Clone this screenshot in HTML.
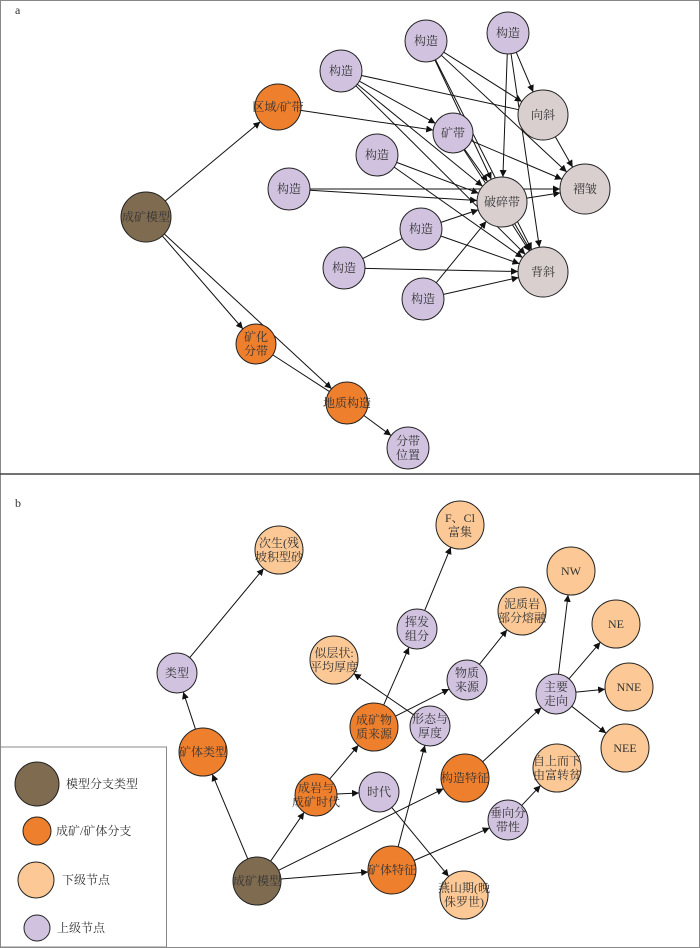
<!DOCTYPE html>
<html><head><meta charset="utf-8"><style>
html,body{margin:0;padding:0;background:#fff}
svg{display:block}
text{font-family:"Liberation Serif","Noto Serif CJK SC","Noto Sans CJK SC",serif;font-size:12px;fill:#333;text-anchor:middle}
</style></head><body>
<svg id="s" width="700" height="948" viewBox="0 0 700 948" xmlns="http://www.w3.org/2000/svg">
<defs><marker id="ar" viewBox="0 0 10 10" refX="10" refY="5" markerWidth="7" markerHeight="7" orient="auto" markerUnits="userSpaceOnUse"><path d="M0,0L10,5L0,10z" fill="#111"/></marker></defs>
<rect x="0.5" y="0.5" width="699" height="947" fill="#fff" stroke="#888"/>
<line x1="0" y1="474" x2="700" y2="474" stroke="#444" stroke-width="1.5"/>
<text x="15" y="14" style="text-anchor:start">a</text>
<text x="15" y="507" style="text-anchor:start">b</text>
<rect x="0.5" y="747" width="166" height="200" fill="#fff" stroke="#888"/>
<g id="edges" stroke="#111" stroke-width="1" fill="none"></g>
<g id="nodes" stroke="#222" stroke-width="1"></g>
<g id="legend" stroke="#222">
<circle cx="37" cy="784" r="22" fill="#7f6b50"/>
<circle cx="37" cy="831" r="14" fill="#ee7f2d"/>
<circle cx="36" cy="880" r="18" fill="#fcc996"/>
<circle cx="37" cy="928" r="13" fill="#d1c3e0"/>
</g>
<g style="text-anchor:start">
<text x="66" y="788" style="text-anchor:start">模型分支类型</text>
<text x="56" y="835" style="text-anchor:start">成矿/矿体分支</text>
<text x="62" y="884" style="text-anchor:start">下级节点</text>
<text x="57" y="932" style="text-anchor:start">上级节点</text>
</g>
<g id="labels"></g>
</svg>
<script>
var C={br:"#7f6b50",or:"#ee7f2d",pe:"#fcc996",la:"#d1c3e0",gr:"#d9cfcf"};
var N={
a0:[146,217,25,"br",["成矿模型"]],
a1:[278,107,23,"or",["区域/矿带"]],
a2:[256,344,20,"or",["矿化","分带"]],
a3:[347,403,21,"or",["地质构造"]],
a4:[408,448,21,"la",["分带","位置"]],
k1:[341,71,21,"la",["构造"]],
k2:[426,41,21,"la",["构造"]],
k3:[508,33,21,"la",["构造"]],
kd:[453,133,20,"la",["矿带"]],
xx:[543,115,25,"gr",["向斜"]],
k4:[377,155,21,"la",["构造"]],
k5:[289,189,21,"la",["构造"]],
ps:[502,202,25,"gr",["破碎带"]],
zz:[585,189,25,"gr",["褶皱"]],
k6:[421,229,21,"la",["构造"]],
k7:[344,268,21,"la",["构造"]],
bx:[543,272,25,"gr",["背斜"]],
k8:[423,299,21,"la",["构造"]],
b0:[257,881,24,"br",["成矿模型"]],
b1:[203,752,24,"or",["矿体类型"]],
b2:[177,673,20,"la",["类型"]],
b3:[279,550,24,"pe",["次生(残","坡积型砂"]],
b4:[316,795,21,"or",["成岩与","成矿时代"]],
b5:[379,792,20,"la",["时代"]],
b6:[374,727,24,"or",["成矿物","质来源"]],
b7:[417,629,20,"la",["挥发","组分"]],
b8:[460,525,24,"pe",["F、Cl","富集"]],
b9:[334,660,24,"pe",["似层状:","平均厚度"]],
b10:[430,726,20,"la",["形态与","厚度"]],
b11:[467,680,20,"la",["物质","来源"]],
b12:[522,611,24,"pe",["泥质岩","部分熔融"]],
b13:[465,778,24,"or",["构造特征"]],
b14:[556,694,20,"la",["主要","走向"]],
b15:[571,571,24,"pe",["NW"]],
b16:[616,624,24,"pe",["NE"]],
b17:[629,687,24,"pe",["NNE"]],
b18:[625,748,24,"pe",["NEE"]],
b19:[557,768,24,"pe",["自上而下","由富转贫"]],
b20:[508,820,20,"la",["垂向分","带性"]],
b21:[392,870,24,"or",["矿体特征"]],
b22:[464,895,24,"pe",["燕山期(晚","侏罗世)"]]
};
var E=[["a0","a1"],["a0","a2"],["a0","a3"],["a2","a3",0],["a3","a4"],["a1","kd"],
["k1","xx",0],["k1","kd"],["k1","ps"],["k1","bx"],
["k2","xx"],["k2","zz"],["k2","ps"],["k2","bx"],
["k3","ps"],["k3","xx"],["k3","bx"],
["kd","ps"],["kd","zz"],["kd","bx"],["xx","zz"],
["k4","ps"],["k4","bx"],["k5","ps"],["k5","zz"],["ps","zz"],["ps","bx"],
["k6","ps"],["k6","bx"],["k7","k6",0],["k7","bx"],["k8","ps"],["k8","bx"],
["b0","b1"],["b0","b4"],["b0","b13"],["b0","b21"],["b1","b2"],["b2","b3"],
["b4","b6"],["b4","b5"],["b5","b22"],["b6","b7"],["b7","b8"],["b6","b11"],["b11","b12"],
["b10","b9"],["b21","b10"],["b21","b20"],["b20","b19"],["b13","b14"],
["b14","b15"],["b14","b16"],["b14","b17"],["b14","b18"]];
var ns="http://www.w3.org/2000/svg",eg=document.getElementById("edges"),ng=document.getElementById("nodes");
E.forEach(function(e){var a=N[e[0]],b=N[e[1]];var dx=b[0]-a[0],dy=b[1]-a[1],d=Math.hypot(dx,dy);
var l=document.createElementNS(ns,"line");l.setAttribute("x1",a[0]+dx/d*a[2]);l.setAttribute("y1",a[1]+dy/d*a[2]);
l.setAttribute("x2",b[0]-dx/d*b[2]);l.setAttribute("y2",b[1]-dy/d*b[2]);if(e[2]!==0)l.setAttribute("marker-end","url(#ar)");eg.appendChild(l);});
for(var k in N){var n=N[k];var c=document.createElementNS(ns,"circle");c.setAttribute("cx",n[0]);c.setAttribute("cy",n[1]);c.setAttribute("r",n[2]);c.setAttribute("fill",C[n[3]]);ng.appendChild(c);}
</script>
<g></g>
<svg width="700" height="948" style="position:absolute;left:0;top:0" xmlns="http://www.w3.org/2000/svg">
<text x="146" y="221">成矿模型</text>
<text x="278" y="111">区域/矿带</text>
<text x="256" y="341">矿化</text><text x="256" y="355">分带</text>
<text x="347" y="407">地质构造</text>
<text x="408" y="445">分带</text><text x="408" y="459">位置</text>
<text x="341" y="75">构造</text>
<text x="426" y="45">构造</text>
<text x="508" y="37">构造</text>
<text x="453" y="137">矿带</text>
<text x="543" y="119">向斜</text>
<text x="377" y="159">构造</text>
<text x="289" y="193">构造</text>
<text x="502" y="206">破碎带</text>
<text x="585" y="193">褶皱</text>
<text x="421" y="233">构造</text>
<text x="344" y="272">构造</text>
<text x="543" y="276">背斜</text>
<text x="423" y="303">构造</text>
<text x="257" y="885">成矿模型</text>
<text x="203" y="756">矿体类型</text>
<text x="177" y="677">类型</text>
<text x="279" y="547">次生(残</text><text x="279" y="561">坡积型砂</text>
<text x="316" y="792">成岩与</text><text x="316" y="806">成矿时代</text>
<text x="379" y="796">时代</text>
<text x="374" y="724">成矿物</text><text x="374" y="738">质来源</text>
<text x="417" y="626">挥发</text><text x="417" y="640">组分</text>
<text x="460" y="522">F、Cl</text><text x="460" y="536">富集</text>
<text x="334" y="657">似层状:</text><text x="334" y="671">平均厚度</text>
<text x="430" y="723">形态与</text><text x="430" y="737">厚度</text>
<text x="467" y="677">物质</text><text x="467" y="691">来源</text>
<text x="522" y="608">泥质岩</text><text x="522" y="622">部分熔融</text>
<text x="465" y="782">构造特征</text>
<text x="556" y="691">主要</text><text x="556" y="705">走向</text>
<text x="571" y="575">NW</text>
<text x="616" y="628">NE</text>
<text x="629" y="691">NNE</text>
<text x="625" y="752">NEE</text>
<text x="557" y="765">自上而下</text><text x="557" y="779">由富转贫</text>
<text x="508" y="817">垂向分</text><text x="508" y="831">带性</text>
<text x="392" y="874">矿体特征</text>
<text x="464" y="892">燕山期(晚</text><text x="464" y="906">侏罗世)</text>
</svg>
</body></html>
